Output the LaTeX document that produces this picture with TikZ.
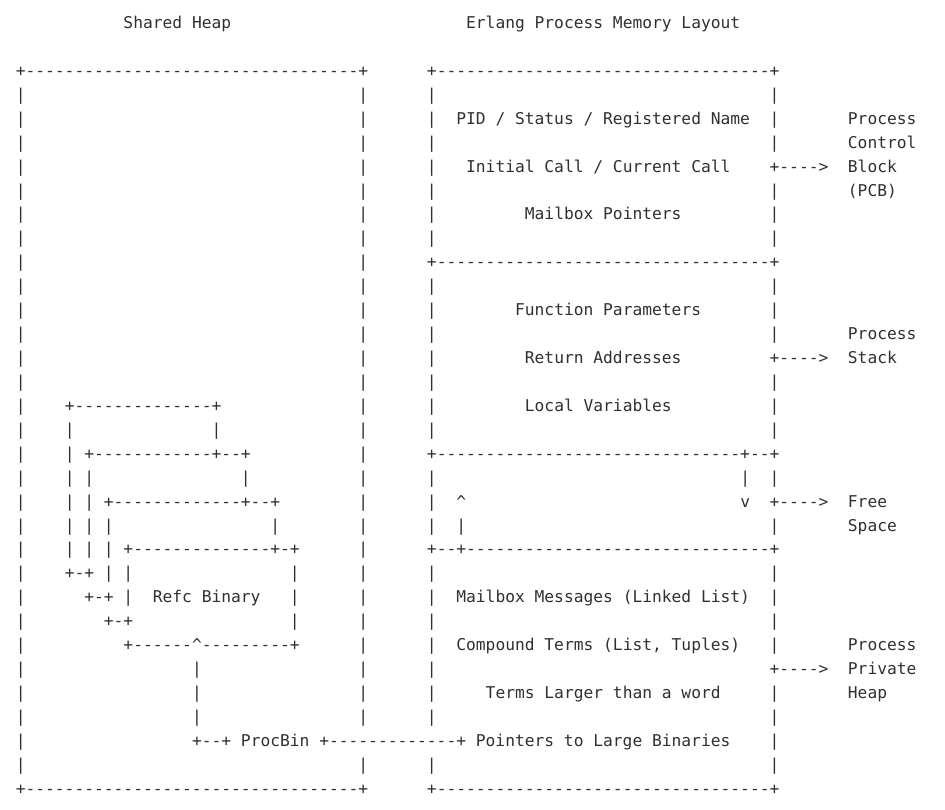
\documentclass[tikz,border=0pt]{standalone}
\usepackage{fontspec}
\setmonofont{DejaVu Sans Mono}
\ExplSyntaxOn
\cs_new:Npn \dsh #1 { \prg_replicate:nn {#1} {-} }
\ExplSyntaxOff
\definecolor{ink}{HTML}{303030}
\newcommand\cw{9.79}
\newcommand\lh{23.93}
\tikzset{asc/.style={font=\ttfamily\fontsize{16.26pt}{20pt}\selectfont, text=ink, inner sep=0pt, outer sep=0pt, anchor=base west}}
\newcommand\T[4]{\node[asc] (#1) at ({(15.8+#2*\cw)*1pt},{-(28.5+#3*\lh)*1pt}) {#4};}
\begin{document}
\begin{tikzpicture}
\fill[white] (0,0) rectangle (945pt,-809pt);
\useasboundingbox (0,0) rectangle (945pt,-809pt);
% titles
\T{t1}{11}{0}{Shared Heap}
\T{t2}{46}{0}{Erlang Process Memory Layout}
% outer boxes
\T{ltop}{0}{2}{+\dsh{34}+}
\T{rtop}{42}{2}{+\dsh{34}+}
\T{lbot}{0}{32}{+\dsh{34}+}
\T{rbot}{42}{32}{+\dsh{34}+}
\T{rsep1}{42}{10}{+\dsh{34}+}
\T{rsep2}{42}{18}{+\dsh{31}+--+}
\T{rsep3}{42}{22}{+--+\dsh{31}+}
\foreach \r in {3,...,31}{\T{lb\r}{0}{\r}{|}}
\foreach \r in {3,4,5,6,7,8,9,10,11,12,13,14,15,16,17,18,19,20,21,22,23,24,25,26,27,28,29,31}{\T{lr\r}{35}{\r}{|}}
\foreach \r in {3,4,5,6,7,8,9,11,12,13,14,15,16,17,19,20,21,23,24,25,26,27,28,29,31}{\T{rl\r}{42}{\r}{|}}
\foreach \r in {3,4,5,7,8,9,11,12,13,15,16,17,19,21,23,24,25,26,28,29,30,31}{\T{rr\r}{77}{\r}{|}}
% right box contents
\T{pid}{45}{4}{PID / Status / Registered Name}
\T{ini}{46}{6}{Initial Call / Current Call}
\T{mbp}{52}{8}{Mailbox Pointers}
\T{fnp}{51}{12}{Function Parameters}
\T{ret}{52}{14}{Return Addresses}
\T{loc}{52}{16}{Local Variables}
\T{down1}{74}{19}{|}
\T{down2}{74}{20}{v}
\T{up1}{45}{20}{\textasciicircum}
\T{up2}{45}{21}{|}
\T{mbm}{45}{24}{Mailbox Messages (Linked List)}
\T{cmp}{45}{26}{Compound Terms (List, Tuples)}
\T{trm}{48}{28}{Terms Larger than a word}
% arrows and side labels
\T{a1}{77}{6}{+\dsh{4}>}
\T{a2}{77}{14}{+\dsh{4}>}
\T{a3}{77}{20}{+\dsh{4}>}
\T{a4}{77}{27}{+\dsh{4}>}
\T{pcb1}{85}{4}{Process}
\T{pcb2}{85}{5}{Control}
\T{pcb3}{85}{6}{Block}
\T{pcb4}{85}{7}{(PCB)}
\T{stk1}{85}{13}{Process}
\T{stk2}{85}{14}{Stack}
\T{fr1}{85}{20}{Free}
\T{fr2}{85}{21}{Space}
\T{hp1}{85}{26}{Process}
\T{hp2}{85}{27}{Private}
\T{hp3}{85}{28}{Heap}
% nested refc binary boxes
\T{n1}{5}{16}{+\dsh{14}+}
\T{n1b}{20}{17}{|}
\T{n2}{7}{18}{+\dsh{12}+--+}
\T{n2b}{23}{19}{|}
\T{n3}{9}{20}{+\dsh{13}+--+}
\T{n3b}{26}{21}{|}
\T{n4}{11}{22}{+\dsh{14}+-+}
\foreach \r in {17,...,22}{\T{c5\r}{5}{\r}{|}}
\foreach \r in {19,...,22}{\T{c7\r}{7}{\r}{|}}
\foreach \r in {21,...,23}{\T{c9\r}{9}{\r}{|}}
\foreach \r in {23,24}{\T{c11\r}{11}{\r}{|}}
\foreach \r in {23,...,25}{\T{c28\r}{28}{\r}{|}}
\T{k1}{5}{23}{+-+}
\T{k2}{7}{24}{+-+}
\T{k3}{9}{25}{+-+}
\T{refc}{14}{24}{Refc Binary}
\T{n5}{11}{26}{+\dsh{6}\textasciicircum\dsh{9}+}
\foreach \r in {27,...,29}{\T{c18\r}{18}{\r}{|}}
\T{pb}{18}{30}{+--+ ProcBin +\dsh{13}+ Pointers to Large Binaries}
\end{tikzpicture}
\end{document}
